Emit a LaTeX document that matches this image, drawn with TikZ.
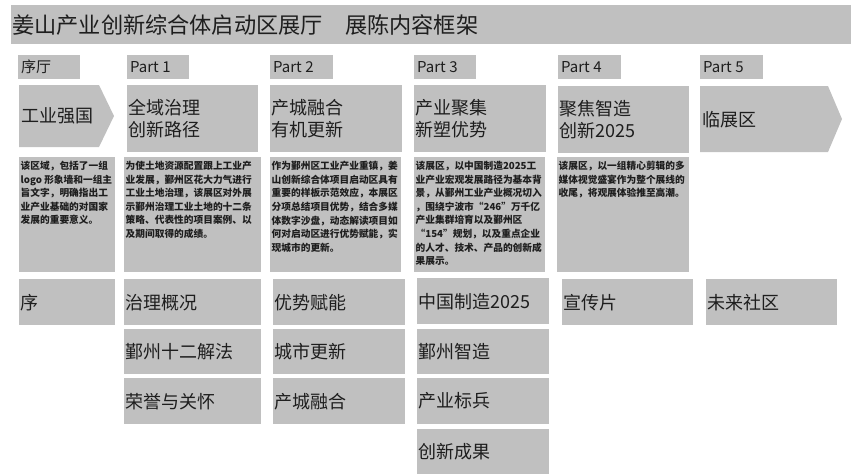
\documentclass[tikz,border=0pt]{standalone}
\usepackage{fontspec}
\setmainfont{Noto Sans CJK SC}
\usetikzlibrary{positioning}
\definecolor{panelgray}{RGB}{192,192,192}
\definecolor{inkgray}{RGB}{30,30,30}
\tikzset{
	panel/.style={fill=panelgray, inner sep=0pt, anchor=north west},
	caption/.style={text=inkgray, inner sep=0pt, align=left},
	bigtext/.style={caption, font=\fontsize{18}{22}\selectfont},
	tagtext/.style={caption, font=\fontsize{15}{18}\selectfont},
	notetext/.style={caption, font=\fontsize{9.7}{13.6}\selectfont\bfseries},
}
\newcommand{\panel}[6] % name, x in px, y in px, width, height, text
{
	% gray box
	\node[panel, minimum width=#4, minimum height=#5] (#1) at (#2,#3) {};
	% text at its left edge
	\node[bigtext, right=1pt of #1.west] (#1-t) {#6};
}
\newcommand{\tagbox}[4] % name, x in px, width, text
{
	\node[panel, minimum width=#3, minimum height=24] (#1) at (#2,55) {};
	\node[tagtext, right=3pt of #1.west] (#1-t) {#4};
}
\newcommand{\note}[4] % name, x in px, width, text
{
	\node[panel, minimum width=#3, minimum height=115] (#1) at (#2,157) {};
	\node[notetext, below right=4pt and 1.5pt of #1.north west] (#1-t) {#4};
}

\begin{document}
\begin{tikzpicture}[x=1pt, y=-1pt]
	% 863px x 474px, 1px = 1pt
	\useasboundingbox (0,0) rectangle (863,474);
	% title bar
	\node[panel, minimum width=840, minimum height=39] (title) at (11,5) {};
	\node[caption, font=\fontsize{22.2}{26}\selectfont, right=1pt of title.west] (title-t) {姜山产业创新综合体启动区展厅\hspace{1em}展陈内容框架};
	
	% part tags
	\tagbox{tag0}{18}{62}{序厅}
	\tagbox{tag1}{127}{62}{Part 1}
	\tagbox{tag2}{270}{63}{Part 2}
	\tagbox{tag3}{414}{62}{Part 3}
	\tagbox{tag4}{558}{63}{Part 4}
	\tagbox{tag5}{700}{63}{Part 5}
	
	% headers, first and last as arrows
	\fill[panelgray] (19,85) -- (99,85) -- (114,116) -- (99,147) -- (19,147) -- cycle;
	\coordinate (head0) at (19,116);
	\node[bigtext, right=2pt of head0] (head0-t) {工业强国};
	\panel{head1}{127}{85}{131}{67}{全域治理\\创新路径}
	\panel{head2}{270}{85}{132}{67}{产城融合\\有机更新}
	\panel{head3}{414}{85}{132}{67}{产业聚集\\新塑优势}
	\panel{head4}{558}{86}{131}{67}{聚焦智造\\创新2025}
	\fill[panelgray] (700,86) -- (828,86) -- (842,119) -- (828,152) -- (700,152) -- cycle;
	\coordinate (head5) at (700,120);
	\node[bigtext, right=2pt of head5] (head5-t) {临展区};
	
	% descriptions
	\note{note0}{19}{96}{该区域，包括了一组\\logo 形象墙和一组主\\旨文字，明确指出工\\业产业基础的对国家\\发展的重要意义。}
	\note{note1}{124}{137}{为使土地资源配置跟上工业产\\业发展，鄞州区花大力气进行\\工业土地治理，该展区对外展\\示鄞州治理工业土地的十二条\\策略、代表性的项目案例、以\\及期间取得的成绩。}
	\note{note2}{270}{131}{作为鄞州区工业产业重镇，姜\\山创新综合体项目启动区具有\\重要的样板示范效应，本展区\\分项总结项目优势，结合多媒\\体数字沙盘，动态解读项目如\\何对启动区进行优势赋能，实\\现城市的更新。}
	\note{note3}{414}{131}{该展区，以中国制造2025工\\业产业宏观发展路径为基本背\\景，从鄞州工业产业概况切入\\，围绕宁波市“246”万千亿\\产业集群培育以及鄞州区\\“154”规划，以及重点企业\\的人才、技术、产品的创新成\\果展示。}
	\note{note4}{557}{132}{该展区，以一组精心剪辑的多\\媒体视觉盛宴作为整个展线的\\收尾，将观展体验推至高潮。}
	
	% exhibits
	\panel{item0a}{19}{279}{96}{46}{序}
	\panel{item1a}{124}{279}{137}{46}{治理概况}
	\panel{item1b}{124}{329}{137}{45}{鄞州十二解法}
	\panel{item1c}{124}{378}{137}{46}{荣誉与关怀}
	\panel{item2a}{273}{279}{132}{46}{优势赋能}
	\panel{item2b}{273}{329}{132}{45}{城市更新}
	\panel{item2c}{273}{378}{132}{46}{产城融合}
	\panel{item3a}{417}{278}{132}{46}{中国制造2025}
	\panel{item3b}{417}{329}{132}{45}{鄞州智造}
	\panel{item3c}{417}{378}{132}{46}{产业标兵}
	\panel{item3d}{417}{429}{132}{45}{创新成果}
	\panel{item4a}{562}{279}{131}{46}{宣传片}
	\panel{item5a}{706}{279}{131}{46}{未来社区}
\end{tikzpicture}
\end{document}
